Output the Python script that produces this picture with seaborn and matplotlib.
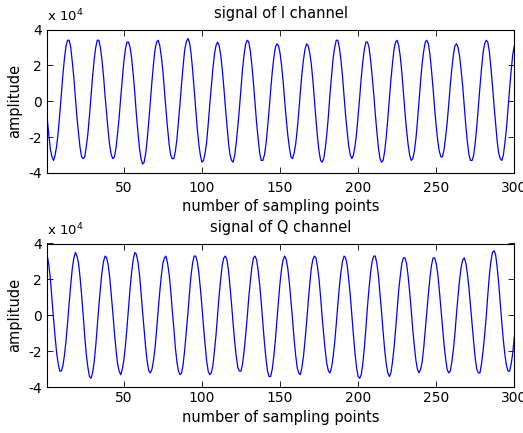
import numpy as np
import pandas as pd
import matplotlib
matplotlib.use("Agg")
import matplotlib.pyplot as plt
import seaborn as sns

# ---- data (amplitudes, in units of 1e3) ----
i_channel_k = [
    -10, -19, -27, -31, -33, -30, -25, -17, -7, 4, 15, 24, 31, 34, 34, 30, 22, 13, 2,
    -9, -18, -26, -31, -32, -31, -25, -18, -8, 3, 14, 23, 30, 34, 34, 30, 23, 14, 3,
    -7, -17, -25, -30, -32, -31, -26, -18, -9, 2, 12, 22, 29, 33, 33, 30, 24, 15, 5,
    -7, -17, -26, -32, -35, -34, -29, -21, -11, 0, 11, 21, 29, 33, 34, 31, 25, 17, 6,
    -5, -15, -24, -30, -32, -32, -28, -21, -11, -1, 10, 20, 29, 33, 35, 33, 27, 18, 7,
    -4, -15, -24, -30, -34, -33, -29, -23, -13, -2, 8, 18, 26, 31, 33, 31, 26, 18, 8,
    -3, -13, -23, -30, -33, -34, -30, -23, -14, -4, 7, 18, 26, 32, 34, 33, 28, 20, 10,
    -1, -12, -21, -29, -33, -33, -30, -24, -15, -5, 6, 16, 24, 30, 32, 31, 27, 20, 11,
    0, -10, -19, -26, -31, -32, -29, -24, -16, -6, 5, 15, 23, 29, 32, 31, 27, 21, 12,
    1, -10, -20, -28, -33, -34, -32, -26, -18, -8, 4, 14, 24, 30, 34, 34, 30, 23, 14,
    3, -8, -17, -25, -30, -32, -30, -25, -18, -8, 2, 13, 22, 29, 33, 33, 30, 23, 14,
    4, -7, -17, -26, -32, -34, -33, -28, -20, -10, 1, 12, 21, 29, 33, 34, 31, 25, 16,
    5, -6, -16, -24, -30, -33, -32, -28, -21, -11, 0, 11, 21, 28, 33, 34, 32, 26, 17,
    7, -4, -14, -22, -28, -31, -31, -27, -20, -12, -2, 9, 18, 26, 31, 32, 30, 25, 17,
    8, -3, -14, -23, -30, -33, -33, -30, -23, -14, -3, 8, 18, 27, 32, 34, 33, 28, 19,
    9, -2, -12, -22, -29, -32, -33, -30, -23, -15, -4, 7, 17, 26, 31,
]

q_channel_k = [
    33, 28, 20, 9, -2, -12, -21, -27, -31, -31, -28, -22, -14, -4, 7, 17, 26, 32, 35,
    33, 29, 21, 11, 0, -12, -22, -29, -34, -35, -32, -26, -17, -6, 5, 15, 24, 30, 33,
    32, 28, 21, 11, 1, -10, -19, -27, -31, -33, -30, -25, -17, -7, 4, 15, 24, 31, 35,
    34, 30, 23, 13, 2, -8, -18, -26, -31, -32, -30, -25, -18, -8, 3, 13, 22, 29, 32,
    33, 29, 23, 14, 3, -7, -18, -26, -31, -33, -32, -27, -19, -9, 1, 12, 22, 29, 33,
    33, 30, 24, 15, 5, -6, -16, -25, -31, -33, -32, -28, -20, -11, 0, 11, 20, 28, 32,
    33, 31, 25, 16, 6, -5, -15, -23, -29, -31, -31, -27, -20, -11, -1, 10, 19, 27, 32,
    33, 31, 25, 17, 7, -4, -15, -24, -31, -34, -34, -30, -23, -14, -3, 8, 18, 26, 31,
    33, 31, 26, 18, 8, -2, -13, -22, -29, -32, -33, -29, -23, -14, -4, 7, 17, 26, 31,
    33, 32, 27, 20, 10, -1, -11, -20, -27, -31, -32, -29, -23, -15, -5, 6, 16, 24, 30,
    33, 32, 28, 20, 11, 0, -11, -21, -29, -34, -35, -33, -27, -18, -7, 5, 15, 24, 30,
    33, 33, 29, 22, 12, 2, -9, -19, -27, -32, -34, -32, -26, -18, -8, 3, 14, 22, 29,
    32, 32, 29, 22, 13, 3, -8, -17, -25, -30, -32, -30, -26, -18, -8, 2, 12, 21, 28,
    32, 32, 29, 23, 14, 4, -6, -16, -24, -30, -32, -31, -26, -19, -10, 1, 11, 20, 27,
    31, 32, 29, 23, 15, 5, -5, -15, -24, -30, -32, -32, -27, -20, -11, -1, 11, 22, 30,
    35, 36, 34, 27, 18, 7, -4, -14, -22, -28, -31, -31, -27, -21, -12,
]

sample_index = list(range(1, len(i_channel_k) + 1))

x_ticks = [50, 100, 150, 200, 250, 300]
y_ticks = [-40000, -20000, 0, 20000, 40000]
y_tick_labels = ["-4", "-2", "0", "2", "4"]
titles = ["signal of I channel", "signal of Q channel"]
x_label = "number of sampling points"
y_label = "amplitude"
exponent_label = r"x 10$^{4}$"

df = pd.DataFrame({
    "sample": sample_index,
    "I": np.array(i_channel_k) * 1000,
    "Q": np.array(q_channel_k) * 1000,
})

# ---- style ----
sns.set_theme(style="white")
plt.rcParams["font.family"] = ["DejaVu Sans"]
plt.rcParams["text.color"] = "black"
plt.rcParams["axes.labelcolor"] = "black"
plt.rcParams["xtick.color"] = "black"
plt.rcParams["ytick.color"] = "black"

W, H = 523, 433
fig = plt.figure(figsize=(W / 100, H / 100), dpi=100)
fig.patch.set_facecolor("white")

ax_left = 47.3
ax_right = 514.3
axes_boxes = [(29.5, 173.0), (243.5, 387.3)]
x_tick_pads = [6, 3]

for k, (col, (top, bottom)) in enumerate(zip(["I", "Q"], axes_boxes)):
    ax = fig.add_axes([ax_left / W, 1 - bottom / H,
                       (ax_right - ax_left) / W, (bottom - top) / H])
    ax.set_facecolor("white")
    sns.lineplot(data=df, x="sample", y=col, ax=ax, color="#0000ff",
                 linewidth=0.9, estimator=None)
    ax.set_xlim(1, 300)
    ax.set_ylim(-40000, 40000)
    ax.set_xticks(x_ticks)
    ax.set_xticklabels([str(t) for t in x_ticks])
    ax.set_yticks(y_ticks)
    ax.set_yticklabels(y_tick_labels)
    ax.tick_params(direction="in", top=True, right=True, bottom=True, left=True,
                   length=4, width=0.6, labelsize=10, colors="black")
    ax.tick_params(axis="x", pad=x_tick_pads[k])
    ax.tick_params(axis="y", pad=4)
    for sp in ax.spines.values():
        sp.set_visible(True)
        sp.set_color("black")
        sp.set_linewidth(0.8)
    ax.set_xlabel(x_label, fontsize=10.5, labelpad=3, color="black")
    ax.set_ylabel(y_label, fontsize=10.5, labelpad=4, color="black")
    ax.set_title(titles[k], fontsize=10.5, pad=8.5, color="black")
    ax.text(0.0, 1.054, exponent_label, transform=ax.transAxes,
            fontsize=9.5, ha="left", va="baseline", color="black")
    if ax.get_legend() is not None:
        ax.get_legend().remove()

fig.savefig("out.png", dpi=100, facecolor="white")
